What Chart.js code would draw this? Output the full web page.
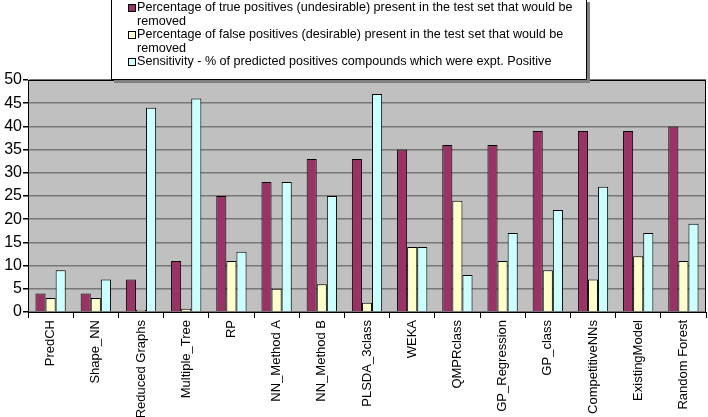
<!DOCTYPE html>
<html>
<head>
<meta charset="utf-8">
<script src="https://cdn.jsdelivr.net/npm/chart.js@4/dist/chart.umd.min.js"></script>
<style>
  html, body { margin: 0; padding: 0; background: #fff; }
  #wrap { position: relative; width: 708px; height: 417px; }
  #legend {
    position: absolute; left: 111px; top: -1px; width: 476px; height: 81px;
    background: #fff; border: 1px solid #000; box-sizing: border-box;
    box-shadow: 3px 3px 0 #808080;
    font-family: "Liberation Sans", Arial, sans-serif; font-size: 12.6px; line-height: 13.5px;
    color: #000; padding: 1px 0 0 25px;
  }
  .item { position: relative; }
  .sw { position: absolute; left: -9px; top: 3px; width: 6px; height: 6px; border: 1px solid #000; }
</style>
</head>
<body>
<div id="wrap">
  <canvas id="c" width="708" height="417"></canvas>
  <div id="legend"></div>
</div>
<script>
const categories = ["PredCH","Shape_NN","Reduced Graphs","Multiple_Tree","RP","NN_Method A","NN_Method B","PLSDA_3class","WEKA","QMPRclass","GP_Regression","GP_class","CompetitiveNNs","ExistingModel","Random Forest"];
const truePositives = [4,4,7,11,25,28,33,33,35,36,36,39,39,39,40];
const falsePositives = [3,3,0.5,0.7,11,5,6,2,14,24,11,9,7,12,11];
const sensitivity = [9,7,44,46,13,28,25,47,14,8,17,22,27,17,19];
const seriesLabels = [
  "Percentage of true positives (undesirable) present in the test set that would be removed",
  "Percentage of false positives (desirable) present in the test set that would be removed",
  "Sensitivity  - % of predicted positives compounds which were expt. Positive"
];
const colors = ["#993366", "#FFFFCC", "#CCFFFF"];

const legend = document.getElementById('legend');
seriesLabels.forEach((t, i) => {
  const d = document.createElement('div');
  d.className = 'item';
  const s = document.createElement('span');
  s.className = 'sw';
  s.style.background = colors[i];
  d.appendChild(s);
  d.appendChild(document.createTextNode(t));
  legend.appendChild(d);
});

const plotBg = {
  id: 'plotBg',
  beforeDraw(chart) {
    const { ctx, chartArea: a } = chart;
    ctx.save();
    ctx.fillStyle = '#C0C0C0';
    ctx.fillRect(a.left, a.top, a.right - a.left, a.bottom - a.top);
    ctx.restore();
  },
  afterDraw(chart) {
    const { ctx, chartArea: a } = chart;
    ctx.save();
    ctx.strokeStyle = '#000';
    ctx.lineWidth = 1;
    ctx.strokeRect(a.left + 0.5, a.top + 0.5, a.right - a.left - 1, a.bottom - a.top);
    ctx.restore();
  }
};

const mk = (label, data, color) => ({
  label, data, backgroundColor: color, borderColor: '#000', borderWidth: 1,
  categoryPercentage: 0.67, barPercentage: 1.0
});

new Chart(document.getElementById('c'), {
  type: 'bar',
  data: {
    labels: categories,
    datasets: [
      mk(seriesLabels[0], truePositives, colors[0]),
      mk(seriesLabels[1], falsePositives, colors[1]),
      mk(seriesLabels[2], sensitivity, colors[2])
    ]
  },
  options: {
    responsive: false,
    animation: false,
    layout: { padding: { top: 80, right: 2, left: 0, bottom: 0 } },
    plugins: { legend: { display: false }, tooltip: { enabled: false } },
    scales: {
      x: {
        grid: { drawOnChartArea: false, color: '#000', tickLength: 6, offset: true },
        border: { color: '#000' },
        ticks: {
          maxRotation: 90, minRotation: 90, autoSkip: false, color: '#000', padding: 2,
          font: { family: '"Liberation Sans", Arial, sans-serif', size: 13 }
        },
        afterFit(s) { s.height = 105; }
      },
      y: {
        min: 0, max: 50,
        grid: { color: '#777777', lineWidth: 1.5, tickLength: 5, tickColor: '#000' },
        border: { color: '#000' },
        ticks: {
          stepSize: 5, color: '#000', padding: 1,
          font: { family: '"Liberation Sans", Arial, sans-serif', size: 16 }
        },
        afterFit(s) { s.width = 28; }
      }
    }
  },
  plugins: [plotBg]
});
</script>
</body>
</html>
